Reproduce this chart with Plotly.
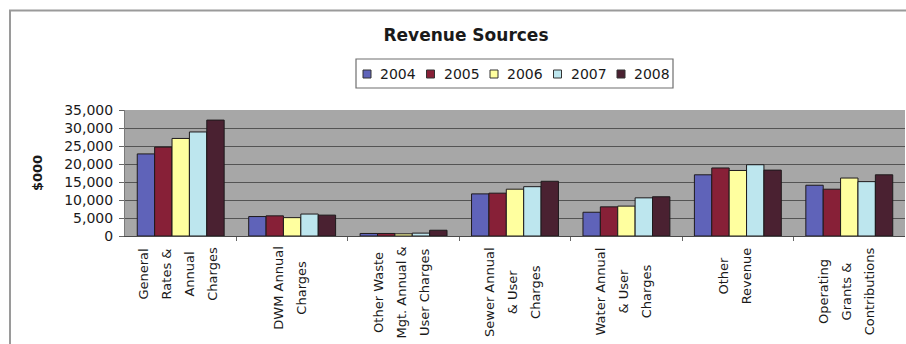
import plotly.graph_objects as go

# Revenue by source and year ($000)
categories = [
    "General<br>Rates &<br>Annual<br>Charges",
    "DWM Annual<br>Charges",
    "Other Waste<br>Mgt. Annual &<br>User Charges",
    "Sewer Annual<br>& User<br>Charges",
    "Water Annual<br>& User<br>Charges",
    "Other<br>Revenue",
    "Operating<br>Grants &<br>Contributions",
]
years = ["2004", "2005", "2006", "2007", "2008"]
rev_2004 = [22800, 5400, 700, 11700, 6600, 17000, 14100]
rev_2005 = [24700, 5600, 700, 11900, 8100, 18900, 13000]
rev_2006 = [27100, 5100, 600, 13000, 8300, 18200, 16100]
rev_2007 = [28900, 6100, 800, 13700, 10600, 19800, 15100]
rev_2008 = [32200, 5800, 1600, 15200, 10900, 18300, 17000]
series = [rev_2004, rev_2005, rev_2006, rev_2007, rev_2008]
colors = ["#5f63b9", "#872037", "#ffff9f", "#bde6ee", "#4a2131"]
y_ticks = [0, 5000, 10000, 15000, 20000, 25000, 30000, 35000]

W, H = 906, 344
ML, MR, MT, MB = 125, 1, 110, 108
PW, PH = W - ML - MR, H - MT - MB
FONT = "DejaVu Sans"


def px_x(px):
    return (px - ML) / PW


def px_y(py):
    return (H - MB - py) / PH


fig = go.Figure()
cat_ids = list(range(len(categories)))
for name, vals, col in zip(years, series, colors):
    fig.add_trace(go.Bar(
        x=cat_ids, y=vals, name=name, showlegend=False,
        marker=dict(color=col, line=dict(color="#1e1a1c", width=1)),
    ))

shapes = []
annotations = []

# outer chart frame
shapes.append(dict(
    type="path", xref="paper", yref="paper",
    path=f"M {px_x(10)},{px_y(360)} L {px_x(10)},{px_y(10.5)} L {px_x(920)},{px_y(10.5)}",
    line=dict(color="#9a9a9a", width=2),
))

# legend box
shapes.append(dict(
    type="rect", xref="paper", yref="paper",
    x0=px_x(356), x1=px_x(673), y0=px_y(88), y1=px_y(59),
    line=dict(color="#6f6f6f", width=1.2), fillcolor="white",
))
for i, (name, col) in enumerate(zip(years, colors)):
    sx = 363 + i * 63.5
    shapes.append(dict(
        type="rect", xref="paper", yref="paper",
        x0=px_x(sx), x1=px_x(sx + 8), y0=px_y(78), y1=px_y(70),
        line=dict(color="#333333", width=1), fillcolor=col,
    ))
    annotations.append(dict(
        text=name, xref="paper", yref="paper", x=px_x(sx + 15), y=px_y(74),
        xanchor="left", yanchor="middle", showarrow=False,
        font=dict(family=FONT, size=14, color="#1a1a1a"),
    ))

# wrapped category labels, rotated, lines centred within each block
for cid, lab in zip(cat_ids, categories):
    lines = lab.split("<br>")
    txt = "<br>".join(f"<span style='font-size:13px'>{ln}</span>" for ln in lines)
    annotations.append(dict(
        text=txt, x=cid, xref="x", y=0, yref="y",
        xanchor="center", yanchor="top", yshift=-9, xshift=-3,
        textangle=-90, align="center", showarrow=False,
        font=dict(family=FONT, size=17.7, color="#1a1a1a"),
    ))

fig.update_layout(
    width=W, height=H,
    margin=dict(l=ML, r=MR, t=MT, b=MB, pad=0),
    paper_bgcolor="white",
    plot_bgcolor="#a7a7a7",
    barmode="group", bargap=0.22, bargroupgap=0,
    title=dict(
        text="Revenue Sources", xref="paper", x=px_x(466), xanchor="center",
        yref="container", y=1 - 35 / H, yanchor="middle",
        font=dict(family=FONT, size=17, weight="bold", color="#1a1a1a"),
    ),
    shapes=shapes,
    annotations=annotations,
    xaxis=dict(
        type="linear", range=[-0.5, len(categories) - 0.5],
        tickvals=[i + 0.5 for i in cat_ids[:-1]], showticklabels=False,
        ticks="outside", ticklen=4, tickcolor="#666666",
        showgrid=False, showline=True, linecolor="#4a4a4a", linewidth=1,
        zeroline=False,
    ),
    yaxis=dict(
        range=[0, 35000], tickvals=y_ticks, tickformat=",",
        ticks="outside", ticklen=5, tickcolor="#666666",
        ticklabelstandoff=3,
        tickfont=dict(family=FONT, size=14, color="#1a1a1a"),
        showgrid=True, gridcolor="#545454", gridwidth=1,
        showline=True, linecolor="#7a7a7a", linewidth=1, zeroline=False,
        title=dict(text="$000", standoff=18,
                   font=dict(family=FONT, size=13, weight="bold", color="#1a1a1a")),
    ),
)

fig.write_html("out.html")
